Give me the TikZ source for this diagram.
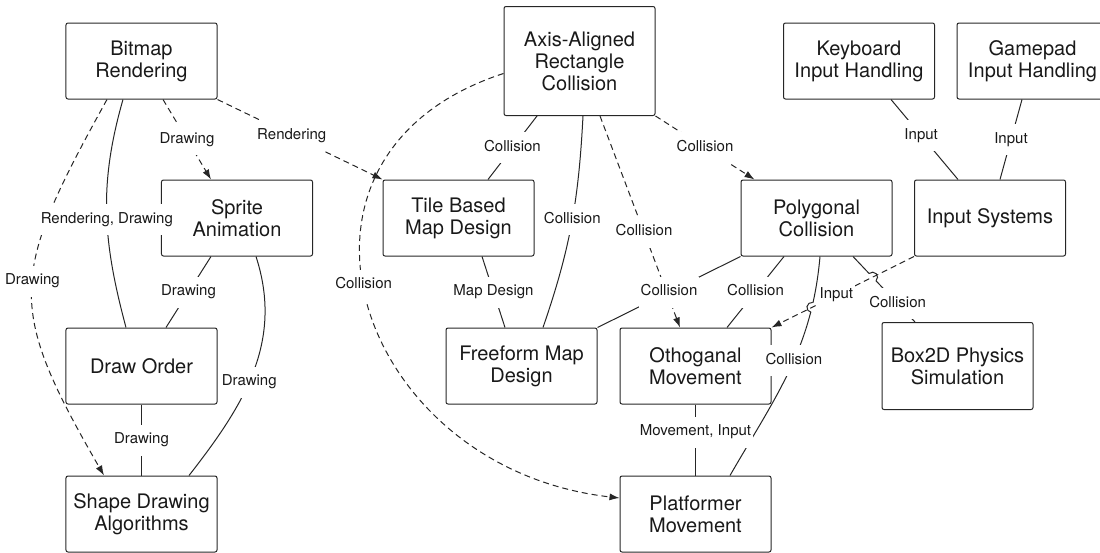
\documentclass[tikz,border=0pt]{standalone}
\usepackage{fontspec}
\setmainfont{TeX Gyre Heros}
\usepackage{tikz}
\usetikzlibrary{arrows.meta, positioning, intersections}
\tikzstyle{block} = [rectangle, rounded corners=2pt, minimum width=151pt, minimum height=76pt, align=center, draw=black!85, line width=1pt, text=black!90, font=\fontsize{20}{22}\selectfont]
\tikzstyle{lbl} = [fill=white, inner xsep=2pt, inner ysep=8pt, text height=11pt, text depth=4pt, text=black!90, font=\fontsize{15}{17}\selectfont]
\tikzstyle{link} = [draw=black!85, line width=1pt]
\tikzstyle{arrow} = [link, dash pattern=on 6pt off 4pt, -{Latex[length=10pt,width=7pt]}]

\begin{document}
\begin{tikzpicture}[node distance=148pt, x=1pt, y=1pt]
				\useasboundingbox (-141.5,61) rectangle (958.5,-491);
				\node(bitmap) [block] {Bitmap\\Rendering};
				%----------------------------------------------------%
				\node(sprite) [block, below of=bitmap, xshift=95.5pt, yshift=-9pt] {Sprite\\Animation};
				\node(draworder) [block, below of=sprite, xshift=-95.5pt] {Draw Order};
				\node(shape) [block, below of=draworder] {Shape Drawing\\Algorithms};
				%----------------------------------------------------%
				\node(aabb) [block, right of=bitmap, xshift=290pt, minimum height=109pt] {Axis-Aligned\\Rectangle\\Collision};
				\node(tile) [block, below of=aabb, xshift=-121pt, yshift=-9pt] {Tile Based\\Map Design};
				\node(freeform) [block, below of=tile, xshift=63pt] {Freeform Map\\Design};
				\node(polygonal) [block, below of=aabb, xshift=237pt, yshift=-9pt] {Polygonal\\Collision};
				\node(othog) [block, below of=polygonal, xshift=-121pt] {Othoganal\\Movement};
				\node(platformer) [block, below of=othog] {Platformer\\Movement};
				%----------------------------------------------------%
				\node(keyboard) [block, right of=aabb, xshift=131.5pt] {Keyboard\\Input Handling};
				\node(gamepad) [block, right of=keyboard, xshift=25.5pt] {Gamepad\\Input Handling};
				\node(inputsys) [block, right of=polygonal, xshift=25.5pt] {Input Systems};
				\node(box2d) [block, below of=inputsys, xshift=-32.5pt, minimum height=87pt] {Box2D Physics\\Simulation};
				
				%----------------------------------------------------%
				\draw[arrow] ([xshift=-34.5pt]bitmap.south) .. controls +(-98,-177) and +(-98,170) .. ([xshift=-37.5pt]shape.north) node[lbl, pos=0.47] {Drawing};
				\draw[link] ([xshift=-18.5pt]bitmap.south) to[out=-106, in=105] node[lbl, pos=0.53] {Rendering, Drawing} ([xshift=-15.5pt]draworder.north);
				\draw[arrow] ([xshift=21.5pt]bitmap.south) -- node[lbl] {Drawing} ([xshift=-26pt]sprite.north);
				\draw[link] ([xshift=-26pt]sprite.south) -- node[lbl] {Drawing} ([xshift=24.5pt]draworder.north);
				\draw[link] ([xshift=19pt]sprite.south) to[out=-72, in=52] node[lbl, pos=0.55] {Drawing} ([xshift=47.5pt]shape.north);
				\draw[link] (draworder) -- node[lbl] {Drawing} (shape);
				
				%----------------------------------------------------%
				\draw[arrow] ([yshift=-12.5pt]aabb.west) .. controls +(-250,-81) and +(-265,30) .. ([yshift=16pt]platformer.west) node[lbl, pos=0.465] {Collision};
				\draw[arrow] (bitmap.south east) -- node[lbl, pos=0.45] {Rendering} (tile.north west);
				\draw[link] ([xshift=-42.5pt]aabb.south) -- node[lbl] {Collision} ([xshift=29.5pt]tile.north);
				\draw[link] ([xshift=3.5pt]aabb.south) to[out=-93, in=71] node[lbl, pos=0.48] {Collision} ([xshift=21.5pt]freeform.north);
				\draw[arrow] ([xshift=20.5pt]aabb.south) -- node[lbl, pos=0.55] {Collision} ([xshift=-15.5pt]othog.north);
				\draw[arrow] (aabb.south east) -- node[lbl] {Collision} ([xshift=14pt]polygonal.north west);
				\draw[link] ([xshift=23.5pt]tile.south) -- node[lbl] {Map Design} ([xshift=-16.5pt]freeform.north);
				
				%----------------------------------------------------%
				\draw[link] (polygonal.south west) -- node[lbl] {Collision} (freeform.north east);
				\draw[link] ([xshift=-32.5pt]polygonal.south) -- node[lbl] {Collision} ([xshift=31.5pt]othog.north);
				\draw[link, name path=polyplat] ([xshift=3.5pt]polygonal.south) to[out=-95, in=60] node[lbl, pos=0.45] {Collision} ([xshift=34.5pt]platformer.north);
				\draw[link, name path=polybox] ([xshift=36.5pt]polygonal.south) -- node[lbl, pos=0.72] {Collision} ([xshift=-42.5pt]box2d.north);
				\draw[link] (othog) -- node[lbl, pos=0.39] {Movement, Input} (platformer);
				
				%----------------------------------------------------%
				\draw[link] ([xshift=32pt]keyboard.south) -- node[lbl, pos=0.45] {Input} ([xshift=-32pt]inputsys.north);
				\draw[link] ([xshift=-10.5pt]gamepad.south) -- node[lbl] {Input} ([xshift=10pt]inputsys.north);
				\path[name path=inputln] (inputsys.south west) -- (othog.north east);
				\path[name intersections={of=polybox and inputln, by=hopa}];
				\path[name intersections={of=polyplat and inputln, by=hopb}];
				\fill[white] (hopa) circle (5pt);
				\fill[white] (hopb) circle (5pt);
				\draw[link] (hopa) ++(132.8:5pt) arc[start angle=132.8, end angle=-47.2, radius=5pt];
				\draw[link] (hopb) ++(81:5pt) arc[start angle=81, end angle=261, radius=5pt];
				\draw[arrow] (inputsys.south west) -- node[lbl, pos=0.545] {Input} (othog.north east);
			\end{tikzpicture}
\end{document}
